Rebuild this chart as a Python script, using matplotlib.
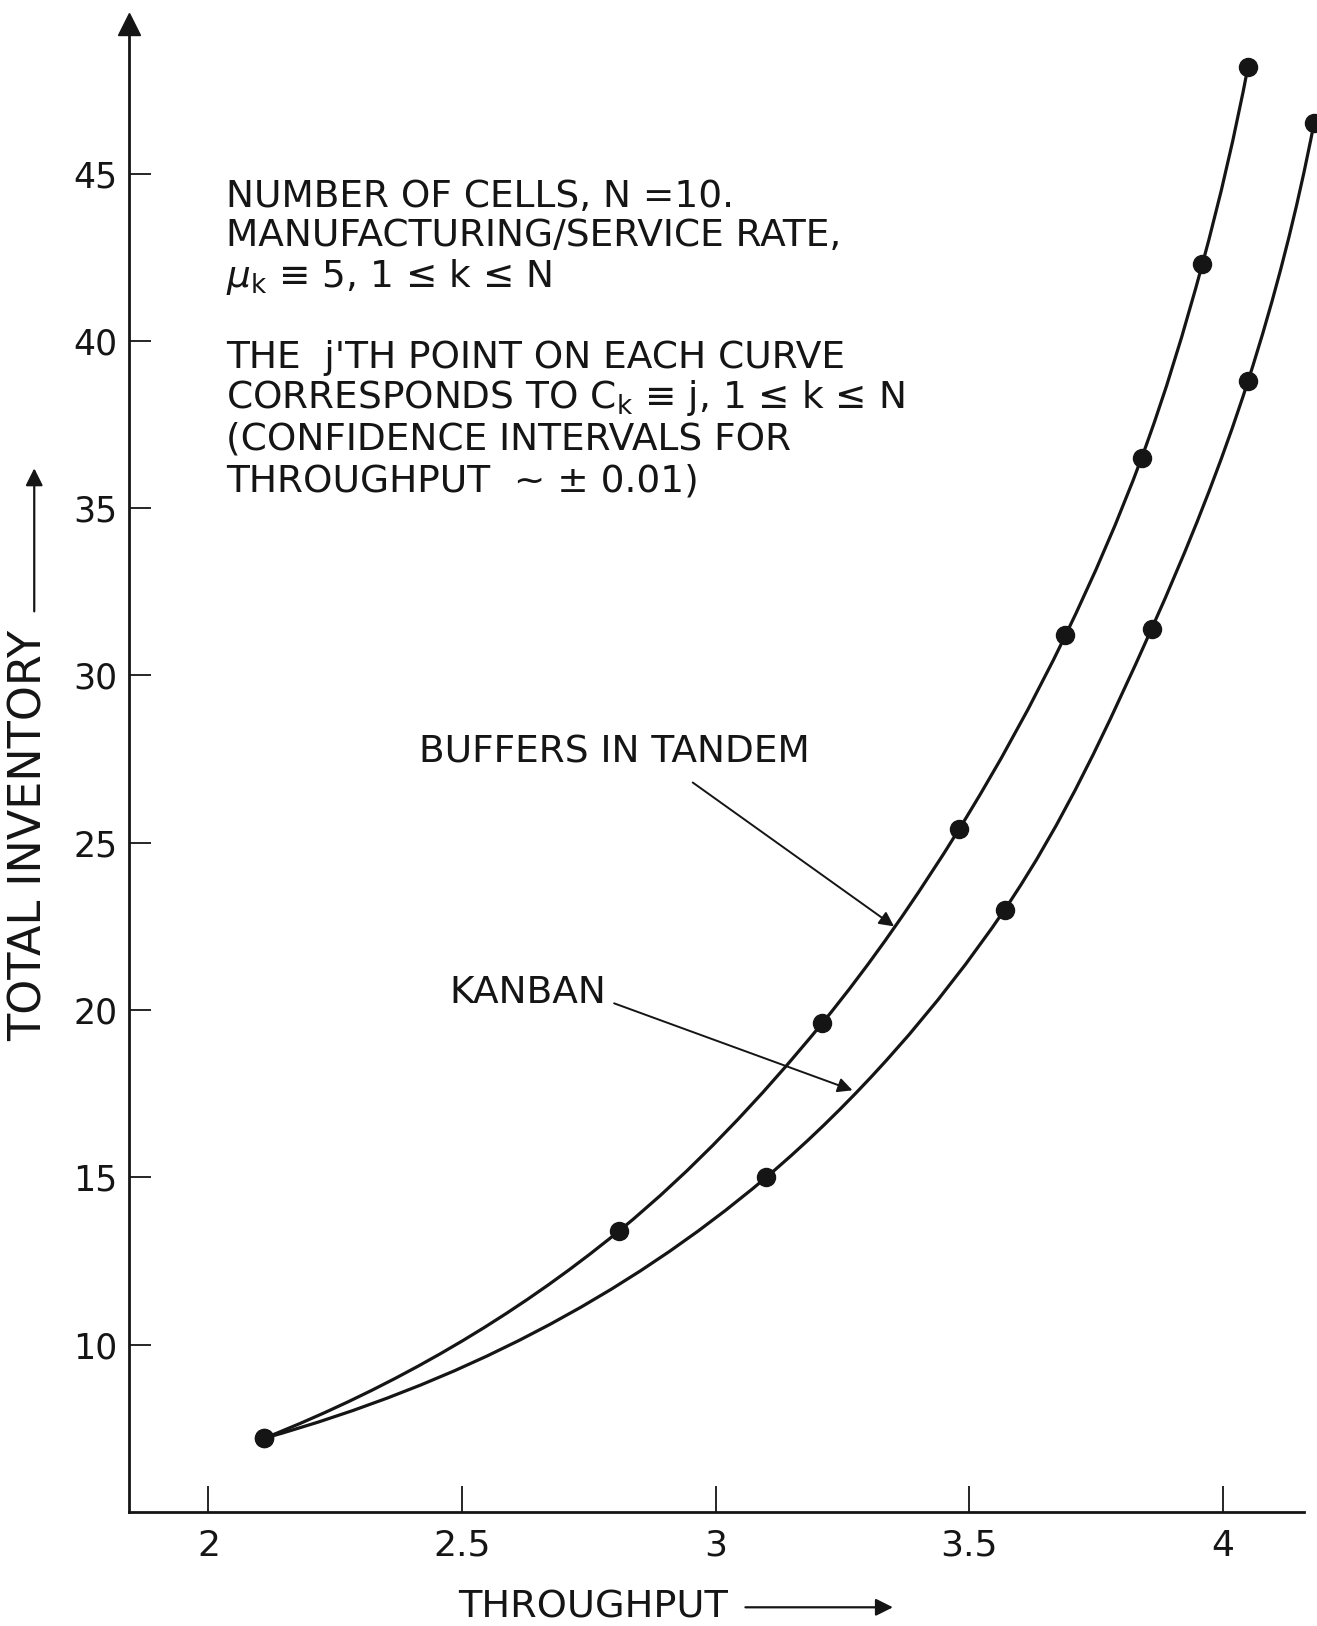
import numpy as np
import matplotlib.pyplot as plt
from matplotlib.path import Path
from matplotlib.patches import PathPatch

plt.rcParams['font.family'] = ['DejaVu Sans']
plt.rcParams['mathtext.fontset'] = 'dejavusans'

# data
tandem_x = [2.11, 2.81, 3.21, 3.48, 3.69, 3.84, 3.96, 4.05]
tandem_y = [7.2, 13.4, 19.6, 25.4, 31.2, 36.5, 42.3, 48.2]
kanban_x = [2.11, 3.10, 3.57, 3.86, 4.05, 4.18]
kanban_y = [7.2, 15.0, 23.0, 31.4, 38.8, 46.5]

x_ticks = [2, 2.5, 3, 3.5, 4]
x_labels = ['2', '2.5', '3', '3.5', '4']
y_ticks = [10, 15, 20, 25, 30, 35, 40, 45]
y_labels = ['10', '15', '20', '25', '30', '35', '40', '45']

note_lines = [
    "NUMBER OF CELLS, N =10.",
    "MANUFACTURING/SERVICE RATE,",
    r"$\mu_{\mathrm{k}}$ ≡ 5, 1 ≤ k ≤ N",
    "THE  j'TH POINT ON EACH CURVE",
    r"CORRESPONDS TO C$_{\mathrm{k}}$ ≡ j, 1 ≤ k ≤ N",
    "(CONFIDENCE INTERVALS FOR",
    "THROUGHPUT  ~ ± 0.01)",
]
note_y = [44.0, 42.85, 41.6, 39.2, 38.0, 36.75, 35.5]

INK = '#151515'


def smooth_path(xs, ys, sx=15.16):
    # smooth curve through the points (chord-length tangents), as Bezier segments
    P = np.column_stack([np.asarray(xs) * sx, ys])
    n = len(P)
    d = np.linalg.norm(np.diff(P, axis=0), axis=1)
    delta = np.diff(P, axis=0) / d[:, None]
    m = np.zeros_like(P)
    for i in range(1, n - 1):
        m[i] = (d[i] * delta[i - 1] + d[i - 1] * delta[i]) / (d[i - 1] + d[i])
    m[0] = 2 * delta[0] - m[1]
    m[-1] = 2 * delta[-1] - m[-2]
    verts = [P[0]]
    codes = [Path.MOVETO]
    for i in range(n - 1):
        verts += [P[i] + m[i] * d[i] / 3, P[i + 1] - m[i + 1] * d[i] / 3, P[i + 1]]
        codes += [Path.CURVE4] * 3
    verts = np.array(verts)
    verts[:, 0] /= sx
    return Path(verts, codes)


fig = plt.figure(figsize=(13.17, 16.26), dpi=100)
ax = fig.add_axes([0.0976, 0.0702, 0.8922, 0.9148])
ax.set_xlim(1.8425, 4.1595)
ax.set_ylim(5, 49.46)

for xs, ys in [(tandem_x, tandem_y), (kanban_x, kanban_y)]:
    ax.add_patch(PathPatch(smooth_path(xs, ys), fill=False, lw=2.3,
                           edgecolor=INK, clip_on=False))
    ax.plot(xs, ys, 'o', color=INK, ms=13, clip_on=False, zorder=3)

ax.spines['top'].set_visible(False)
ax.spines['right'].set_visible(False)
ax.spines['left'].set_linewidth(2.0)
ax.spines['bottom'].set_linewidth(2.0)
ax.spines['left'].set_color(INK)
ax.spines['bottom'].set_color(INK)

ax.set_xticks(x_ticks)
ax.set_xticklabels(x_labels)
ax.set_yticks(y_ticks)
ax.set_yticklabels(y_labels)
ax.tick_params(axis='x', direction='in', length=19, width=1.3, pad=12,
               labelsize=26, colors=INK)
ax.tick_params(axis='y', direction='in', length=16, width=1.3, pad=8,
               labelsize=25, colors=INK)

# arrow head on top of y axis
ax.plot([0], [1], marker='^', ms=16, color=INK, transform=ax.transAxes,
        clip_on=False)

for txt, yy in zip(note_lines, note_y):
    ax.text(2.035, yy, txt, fontsize=27, color=INK, va='baseline', ha='left')

ax.text(2.80, 27.7, "BUFFERS IN TANDEM", fontsize=27, color=INK,
        ha='center', va='center')
ax.annotate('', xy=(3.352, 22.5), xytext=(2.955, 26.8),
            arrowprops=dict(arrowstyle='-|>', lw=1.4, color=INK,
                            mutation_scale=22, shrinkA=0, shrinkB=0))
ax.text(2.63, 20.5, "KANBAN", fontsize=27, color=INK,
        ha='center', va='center')
ax.annotate('', xy=(3.27, 17.6), xytext=(2.80, 20.2),
            arrowprops=dict(arrowstyle='-|>', lw=1.4, color=INK,
                            mutation_scale=22, shrinkA=0, shrinkB=0))

# axis titles with their arrows
fig.text(0.022, 0.486, "TOTAL INVENTORY", rotation=90, fontsize=32,
         color=INK, ha='center', va='center')
ax.annotate('', xy=(0.026, 0.712), xytext=(0.026, 0.624),
            xycoords='figure fraction', textcoords='figure fraction',
            arrowprops=dict(arrowstyle='-|>', lw=1.6, color=INK,
                            mutation_scale=26, shrinkA=0, shrinkB=0))
fig.text(0.450, 0.0115, "THROUGHPUT", fontsize=27.5, color=INK,
         ha='center', va='center')
ax.annotate('', xy=(0.678, 0.0115), xytext=(0.566, 0.0115),
            xycoords='figure fraction', textcoords='figure fraction',
            arrowprops=dict(arrowstyle='-|>', lw=1.6, color=INK,
                            mutation_scale=26, shrinkA=0, shrinkB=0))

fig.savefig('out.png', dpi=100, facecolor='white')
